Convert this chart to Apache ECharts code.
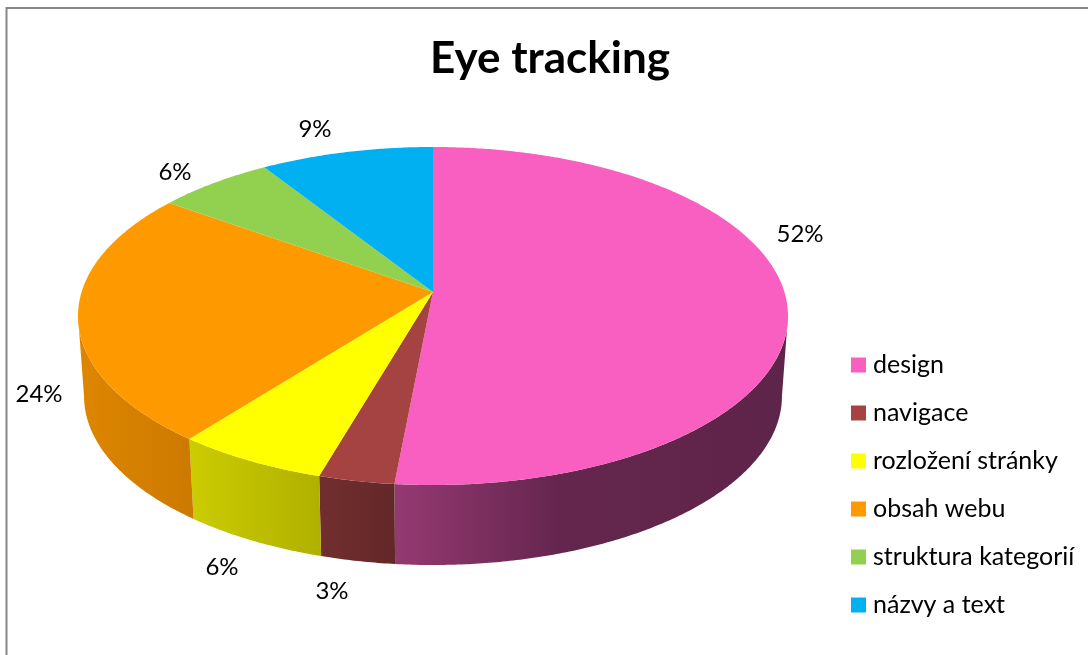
<!DOCTYPE html>
<html>
<head>
<meta charset="utf-8">
<style>html,body{margin:0;padding:0;background:#fff}#chart{width:1088px;height:655px}</style>
<script src="https://cdn.jsdelivr.net/npm/echarts@6/dist/echarts.min.js"></script>
</head>
<body>
<div id="chart"></div>
<script>
// Survey shares, in percent, clockwise from twelve o'clock.
const categories = ['design', 'navigace', 'rozložení stránky', 'obsah webu', 'struktura kategorií', 'názvy a text'];
const shares = [52, 3, 6, 24, 6, 9];
const colors = ['#F95FC0', '#A54343', '#FFFF00', '#FF9900', '#92D050', '#00B0F0'];
const chartTitle = 'Eye tracking';

// Percentage label centres around the disc.
const labelCentres = [[800, 234], [332, 591], [222, 567], [39, 394], [175, 172], [315, 129]];

// Perspective disc: a circle seen from the front, nearer edge looks larger.
// yaw turns the front of the disc a little, leaving the twelve o'clock seam in place.
const disc = { cx: 433, cy: 292, rx: 351.4, ry: 165.6, persp: 0.142, depth: 80, baseScale: 0.983, yaw: 1.8 };
const FONT = 'Lato, "Open Sans", sans-serif';

function viewAngle(deg) {
  return deg - disc.yaw * (1 - Math.cos(deg * Math.PI / 180)) / 2;
}

function project(deg, scale, drop) {
  const t = deg * Math.PI / 180;
  const w = 1 + disc.persp * Math.cos(t);
  return [
    disc.cx + disc.rx * scale * Math.sin(t) / w,
    disc.cy + drop - disc.ry * Math.cos(t) / w
  ];
}

function arc(from, to, scale, drop) {
  const pts = [];
  const n = Math.max(2, Math.ceil(Math.abs(to - from) * 2));
  for (let i = 0; i <= n; i++) pts.push(project(from + (to - from) * i / n, scale, drop));
  return pts;
}

// Side wall lighting: brightness falls from left to right along the front.
const shadeStops = [[85, 0.87], [190, 0.80], [320, 0.69], [395, 0.60], [560, 0.40], [788, 0.38]];

function wallFill(hex) {
  const c = [1, 3, 5].map(i => parseInt(hex.substr(i, 2), 16));
  const x0 = shadeStops[0][0], x1 = shadeStops[shadeStops.length - 1][0];
  return {
    type: 'linear', global: true, x: x0, y: 0, x2: x1, y2: 0,
    colorStops: shadeStops.map(s => ({
      offset: (s[0] - x0) / (x1 - x0),
      color: 'rgb(' + c.map(v => Math.round(v * s[1])).join(',') + ')'
    }))
  };
}

// Silhouette limits of the wall: where cos(t) = -persp.
const wallStart = Math.acos(-disc.persp) * 180 / Math.PI;
const wallEnd = 360 - wallStart;

const startAngles = shares.map((_, i) => shares.slice(0, i).reduce((a, b) => a + b, 0) * 3.6);

function renderSlice(params, api) {
  const i = params.seriesIndex;
  const from = viewAngle(startAngles[i]);
  const to = viewAngle(startAngles[i] + api.value(0) * 3.6);
  const children = [];
  const a = Math.max(from, wallStart), b = Math.min(to, wallEnd);
  if (b > a) {
    children.push({
      type: 'polygon',
      shape: { points: arc(a, b, 1, 0).concat(arc(b, a, disc.baseScale, disc.depth)) },
      style: { fill: wallFill(colors[i]) }
    });
  }
  children.push({
    type: 'polygon',
    shape: { points: [[disc.cx, disc.cy]].concat(arc(from, to, 1, 0)) },
    style: { fill: colors[i] }
  });
  children.push({
    type: 'text',
    style: {
      x: labelCentres[i][0], y: labelCentres[i][1],
      text: api.value(0) + '%',
      font: '24px ' + FONT, fill: '#000', align: 'center', verticalAlign: 'middle'
    }
  });
  return { type: 'group', children: children };
}

const chart = echarts.init(document.getElementById('chart'), null, { renderer: 'canvas' });
chart.setOption({
  animation: false,
  backgroundColor: '#fff',
  title: {
    text: chartTitle, left: 550, top: 37, textAlign: 'center', padding: 0,
    textStyle: { fontFamily: FONT, fontSize: 44, fontWeight: 'bold', color: '#000' }
  },
  legend: {
    orient: 'vertical', left: 851, top: 352.5, padding: 0,
    icon: 'rect', itemWidth: 15, itemHeight: 15, itemGap: 23,
    selectedMode: false, data: categories,
    textStyle: { fontFamily: FONT, fontSize: 25, lineHeight: 20, color: '#000', padding: [0, 0, 0, 2] }
  },
  graphic: [{
    type: 'rect', silent: true, z: -1,
    shape: { x: 6.5, y: 8, width: 1200, height: 800 },
    style: { fill: 'none', stroke: '#868686', lineWidth: 2 }
  }],
  series: categories.map((name, i) => ({
    type: 'custom', name: name, coordinateSystem: 'none', silent: true, clip: false,
    itemStyle: { color: colors[i] },
    data: [[shares[i]]],
    renderItem: renderSlice
  }))
});
</script>
</body>
</html>
